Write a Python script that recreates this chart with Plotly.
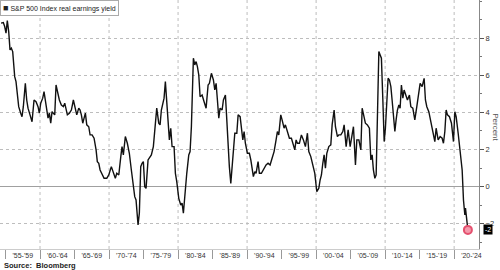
import plotly.graph_objects as go

years = [1954.35, 1954.68, 1954.88, 1955.07, 1955.26, 1955.46, 1955.65, 1955.84, 1956.04, 1956.33,
         1956.52, 1956.71, 1956.91, 1957.20, 1957.39, 1957.58, 1957.87, 1958.07, 1958.26, 1958.55,
         1958.84, 1959.13, 1959.42, 1959.71, 1959.90, 1960.10, 1960.39, 1960.58, 1960.77, 1960.97,
         1961.16, 1961.35, 1961.55, 1961.74, 1961.93, 1962.13, 1962.32, 1962.51, 1962.80, 1963.09,
         1963.38, 1963.58, 1963.77, 1963.96, 1964.25, 1964.54, 1964.83, 1965.12, 1965.32, 1965.61,
         1965.80, 1965.99, 1966.19, 1966.38, 1966.57, 1966.77, 1967.06, 1967.25, 1967.54, 1967.83,
         1968.12, 1968.30, 1968.51, 1968.70, 1968.99, 1969.28, 1969.67, 1969.96, 1970.33, 1970.62,
         1970.91, 1971.12, 1971.41, 1971.70, 1971.88, 1972.07, 1972.36, 1972.65, 1972.94, 1973.23,
         1973.52, 1973.72, 1973.91, 1974.20, 1974.39, 1974.59, 1974.78, 1974.97, 1975.17, 1975.36,
         1975.65, 1975.94, 1976.13, 1976.42, 1976.71, 1976.91, 1977.20, 1977.39, 1977.58, 1977.78,
         1977.97, 1978.16, 1978.36, 1978.55, 1978.74, 1978.94, 1979.13, 1979.42, 1979.61, 1979.81,
         1980.10, 1980.39, 1980.58, 1980.77, 1980.97, 1981.26, 1981.55, 1981.74, 1981.93, 1982.22,
         1982.42, 1982.61, 1982.80, 1983.00, 1983.19, 1983.48, 1983.77, 1984.06, 1984.35, 1984.54,
         1984.83, 1985.12, 1985.32, 1985.51, 1985.70, 1985.90, 1986.09, 1986.38, 1986.57, 1986.86,
         1987.06, 1987.25, 1987.43, 1987.64, 1987.83, 1988.01, 1988.22, 1988.51, 1988.70, 1988.99,
         1989.17, 1989.38, 1989.57, 1989.75, 1990.04, 1990.33, 1990.54, 1990.72, 1990.91, 1991.12,
         1991.30, 1991.59, 1991.78, 1992.07, 1992.36, 1992.75, 1993.04, 1993.33, 1993.62, 1993.91,
         1994.20, 1994.39, 1994.59, 1994.88, 1995.07, 1995.36, 1995.55, 1995.84, 1996.13, 1996.42,
         1996.62, 1996.91, 1997.10, 1997.29, 1997.58, 1997.87, 1998.16, 1998.45, 1998.74, 1998.94,
         1999.23, 1999.52, 1999.81, 2000.10, 2000.39, 2000.58, 2000.77, 2000.97, 2001.16, 2001.35,
         2001.55, 2001.84, 2002.13, 2002.32, 2002.61, 2002.80, 2003.09, 2003.29, 2003.58, 2003.87,
         2004.06, 2004.35, 2004.64, 2004.93, 2005.22, 2005.41, 2005.70, 2005.90, 2006.19, 2006.48,
         2006.67, 2006.86, 2007.14, 2007.43, 2007.72, 2007.93, 2008.12, 2008.30, 2008.51, 2008.70,
         2008.88, 2009.09, 2009.28, 2009.46, 2009.67, 2009.86, 2010.04, 2010.25, 2010.43, 2010.62,
         2010.83, 2011.01, 2011.20, 2011.41, 2011.59, 2011.78, 2011.99, 2012.17, 2012.36, 2012.57,
         2012.75, 2013.04, 2013.23, 2013.52, 2013.72, 2014.01, 2014.30, 2014.59, 2014.88, 2015.07,
         2015.36, 2015.65, 2015.84, 2016.04, 2016.33, 2016.62, 2016.91, 2017.20, 2017.39, 2017.68,
         2017.97, 2018.26, 2018.45, 2018.65, 2018.84, 2019.03, 2019.32, 2019.61, 2019.90, 2020.10,
         2020.29, 2020.58, 2020.87, 2021.16, 2021.35, 2021.55, 2021.64, 2021.84, 2021.99]

real_yield = [8.81, 8.84, 8.63, 8.27, 8.95, 8.36, 7.37, 7.46, 7.28, 5.93,
              5.66, 4.85, 4.31, 3.96, 3.77, 4.31, 5.57, 4.67, 4.23, 3.87,
              3.50, 4.67, 4.58, 4.31, 3.96, 4.50, 4.77, 5.12, 4.67, 4.04,
              3.69, 3.96, 3.42, 4.04, 3.96, 3.87, 5.48, 5.12, 4.67, 4.40,
              4.31, 4.50, 4.13, 3.87, 3.96, 4.13, 4.67, 4.13, 3.87, 4.23,
              4.13, 3.87, 3.42, 3.69, 3.96, 3.33, 3.23, 2.79, 2.79, 2.61,
              1.98, 1.35, 1.26, 0.90, 0.63, 0.45, 0.45, 0.63, 1.08, 0.81,
              0.45, 0.72, 0.63, 1.62, 2.16, 1.71, 2.70, 2.34, 1.80, 0.90,
              0.00, -0.54, -0.72, -2.06, -1.43, 1.08, 1.26, 1.35, 0.00, -0.09,
              1.44, 1.62, 1.71, 2.16, 3.23, 4.23, 3.42, 3.33, 4.13, 4.40,
              4.77, 5.66, 4.50, 3.42, 2.52, 3.15, 2.16, 2.16, 0.72, 0.27,
              -0.63, -0.99, -0.89, -1.43, -0.36, 0.72, 1.71, 1.89, 3.23, 6.92,
              6.56, 6.74, 6.47, 6.02, 4.85, 4.94, 4.58, 4.23, 5.48, 5.57,
              6.11, 5.75, 5.21, 5.57, 4.67, 3.69, 4.23, 4.13, 4.67, 4.94,
              3.60, 1.98, 1.08, 0.18, 1.26, 2.25, 2.88, 2.88, 3.87, 3.77,
              3.23, 2.52, 2.97, 2.34, 1.80, 1.80, 1.44, 0.99, 0.54, 0.81,
              0.72, 1.35, 0.72, 0.72, 0.90, 1.17, 1.26, 1.17, 1.53, 1.89,
              2.52, 2.97, 2.79, 3.87, 3.60, 3.15, 3.33, 2.97, 2.61, 2.61,
              2.34, 1.98, 2.52, 2.34, 2.34, 2.79, 2.52, 2.16, 2.88, 1.89,
              1.62, 1.17, 0.72, -0.27, -0.09, 0.36, 0.63, 1.26, 1.71, 0.99,
              1.80, 2.16, 2.25, 3.33, 4.13, 3.23, 2.70, 2.79, 2.79, 2.97,
              3.33, 2.16, 3.06, 2.16, 2.70, 3.23, 1.17, 2.52, 2.52, 1.98,
              4.23, 3.87, 3.42, 3.33, 3.15, 1.44, 1.71, 0.90, 0.45, 0.63,
              4.67, 7.28, 7.10, 6.92, 4.67, 2.43, 3.15, 4.50, 5.84, 5.75,
              5.39, 4.67, 3.87, 2.97, 3.60, 4.13, 4.40, 4.23, 5.48, 4.77,
              5.21, 4.94, 4.67, 4.94, 4.31, 4.23, 3.60, 4.31, 5.04, 5.57,
              5.39, 5.84, 4.67, 4.31, 4.04, 3.42, 2.97, 2.43, 3.15, 2.52,
              2.70, 2.61, 2.34, 2.97, 4.13, 3.87, 3.77, 3.42, 2.43, 4.04,
              3.77, 2.88, 1.98, 0.90, -0.72, -1.53, -1.16, -1.80, -2.33]

period_centers = [1957.5 + 5 * i for i in range(14)]
period_labels = ["'55-'59", "'60-'64", "'65-'69", "'70-'74", "'75-'79", "'80-'84", "'85-'89",
                 "'90-'94", "'95-'99", "'00-'04", "'05-'09", "'10-'14", "'15-'19", "'20-'24"]
period_bounds = [1955 + 5 * i for i in range(14)]
decade_grid = [1960, 1970, 1980, 1990, 2000, 2010, 2020]
y_ticks = [-2, 0, 2, 4, 6, 8]

FONT = "Liberation Sans"

fig = go.Figure()
fig.add_trace(go.Scatter(x=years, y=real_yield, mode="lines",
                         line=dict(color="#111111", width=1.4), showlegend=False,
                         hoverinfo="skip"))
fig.add_trace(go.Scatter(x=[years[-1]], y=[real_yield[-1]], mode="markers",
                         marker=dict(size=8, color="#f49aac", line=dict(color="#e4506e", width=2)),
                         showlegend=False, hoverinfo="skip"))

for d in decade_grid:
    fig.add_shape(type="line", xref="x", yref="paper", x0=d, x1=d, y0=0, y1=1,
                  line=dict(color="#bdbdbd", width=1, dash="dot"), layer="below")

fig.update_layout(
    width=500, height=270,
    margin=dict(l=0, r=21, t=0, b=21),
    paper_bgcolor="white", plot_bgcolor="white",
    font=dict(family=FONT, size=7, color="#333333"),
    showlegend=False,
    xaxis=dict(range=[1954.2, 2023.6], tickmode="array", tickvals=period_centers,
               ticktext=period_labels, ticks="", showgrid=False, zeroline=False,
               showline=True, linecolor="#cccccc", linewidth=1,
               tickfont=dict(size=7, color="#333333"), ticklabelstandoff=0,
               minor=dict(tickmode="array", tickvals=period_bounds, ticks="outside",
                          ticklen=9, tickcolor="#999999", tickwidth=1, showgrid=False)),
    yaxis=dict(range=[-3.36, 10.06], side="right", tickmode="array", tickvals=y_ticks,
               showgrid=True, gridcolor="#bdbdbd", griddash="dot", gridwidth=1,
               zeroline=True, zerolinecolor="#a0a0a0", zerolinewidth=1,
               showline=True, linecolor="#888888", linewidth=1,
               ticks="outside", ticklen=4, tickcolor="#555555",
               tickfont=dict(size=7.5, color="#333333"),
               minor=dict(dtick=1, tick0=0, ticks="outside", ticklen=2, tickcolor="#777777",
                          showgrid=False)),
)

fig.add_annotation(xref="paper", yref="paper", x=0, y=1, xanchor="left", yanchor="top",
                   text="<span style='font-size:9px'>■</span> S&P 500 Index real earnings yield",
                   showarrow=False, font=dict(size=7, color="#222222", family=FONT),
                   bgcolor="white", bordercolor="#aaaaaa", borderwidth=1, borderpad=2)
fig.add_annotation(xref="paper", yref="paper", x=0.004, y=-0.068, xanchor="left", yanchor="middle",
                   text="<b>Source:  Bloomberg</b>", showarrow=False,
                   font=dict(size=7.5, color="#222222", family=FONT))
fig.add_annotation(xref="paper", yref="paper", x=1.033, y=0.49, xanchor="center", yanchor="middle",
                   text="Percent", textangle=90, showarrow=False,
                   font=dict(size=8, color="#555555", family=FONT))
fig.add_annotation(xref="paper", yref="y", x=1, y=real_yield[-1], xanchor="left", yanchor="middle",
                   xshift=4, text="-2", showarrow=False, bgcolor="#000000",
                   font=dict(size=7, color="white", family=FONT), borderpad=1)

fig.write_html("out.html")
